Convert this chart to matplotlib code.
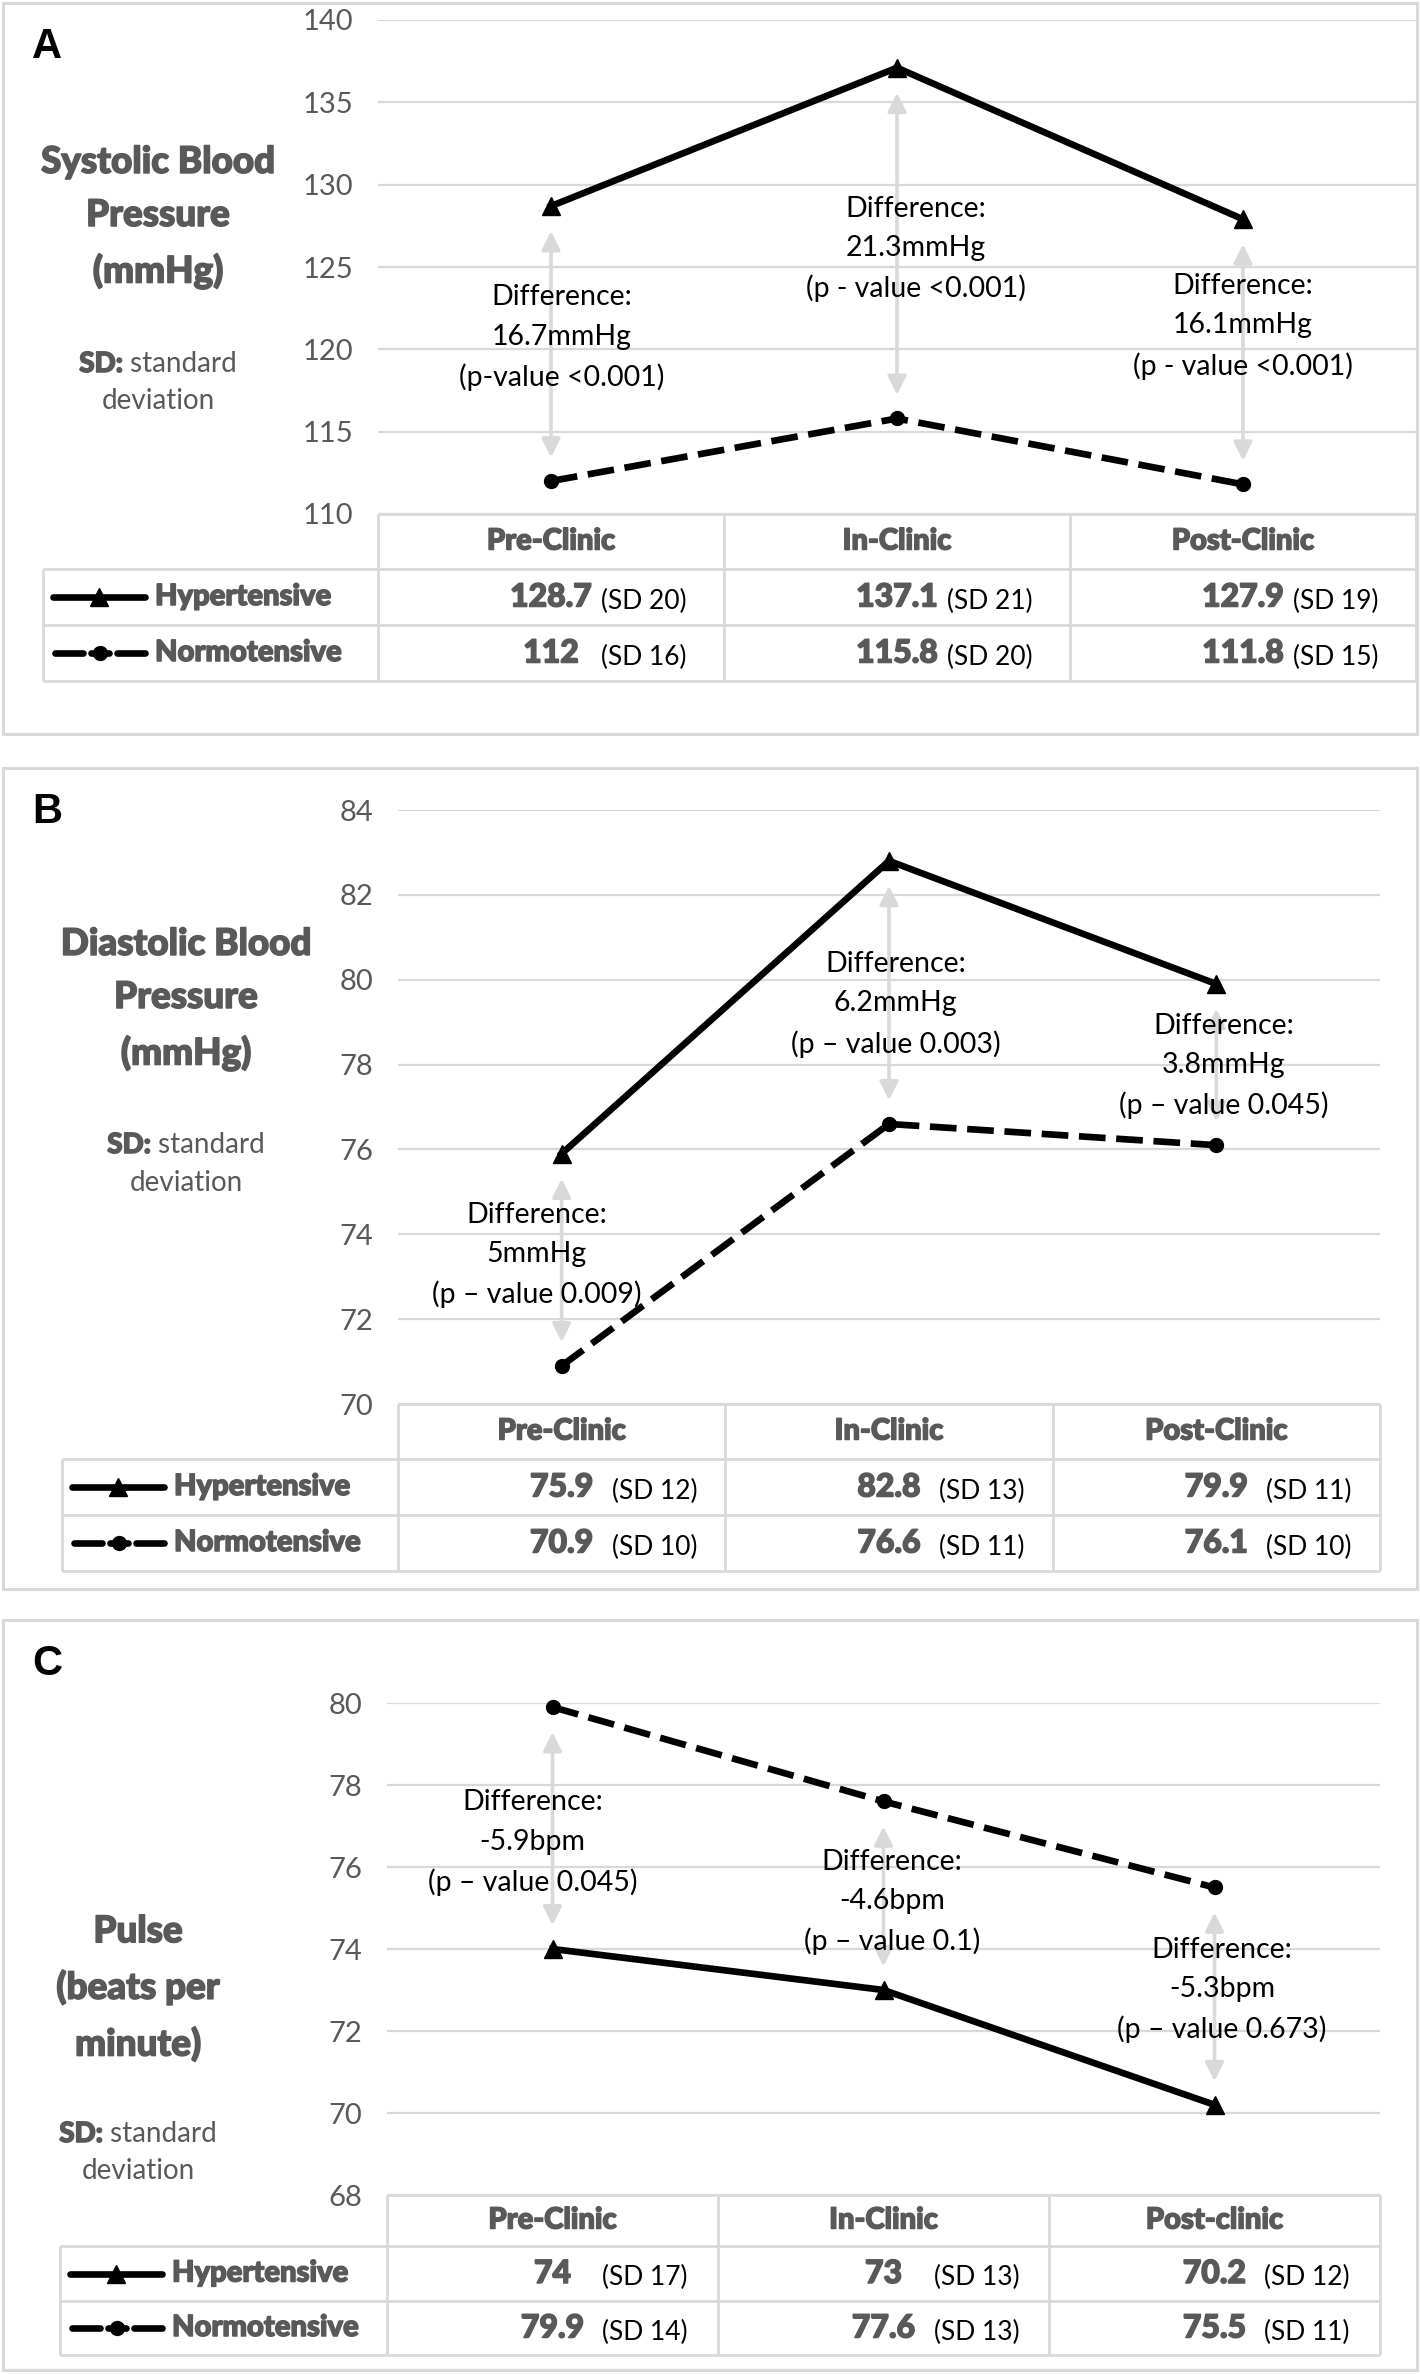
import matplotlib

matplotlib.use("Agg")

import matplotlib.pyplot as plt
import matplotlib.patheffects as pe
from matplotlib.patches import Rectangle

W, H = 1420, 2374

GRAY_TXT = "#595959"
GRID = "#d9d9d9"
HEAVY = "black"
THICK = [pe.withStroke(linewidth=1.1, foreground=GRAY_TXT)]

# ---------------- data ----------------
time_points = ["Pre-Clinic", "In-Clinic", "Post-Clinic"]
time_points_pulse = ["Pre-Clinic", "In-Clinic", "Post-clinic"]
groups = ["Hypertensive", "Normotensive"]

sbp_hyper = [128.7, 137.1, 127.9]
sbp_hyper_sd = [20, 21, 19]
sbp_normo = [112, 115.8, 111.8]
sbp_normo_sd = [16, 20, 15]
sbp_diff = ["16.7mmHg", "21.3mmHg", "16.1mmHg"]
sbp_p = ["(p-value <0.001)", "(p - value <0.001)", "(p - value <0.001)"]
sbp_ticks = [110, 115, 120, 125, 130, 135, 140]

dbp_hyper = [75.9, 82.8, 79.9]
dbp_hyper_sd = [12, 13, 11]
dbp_normo = [70.9, 76.6, 76.1]
dbp_normo_sd = [10, 11, 10]
dbp_diff = ["5mmHg", "6.2mmHg", "3.8mmHg"]
dbp_p = ["(p \u2013 value 0.009)", "(p \u2013 value 0.003)", "(p \u2013 value 0.045)"]
dbp_ticks = [70, 72, 74, 76, 78, 80, 82, 84]

pulse_hyper = [74, 73, 70.2]
pulse_hyper_sd = [17, 13, 12]
pulse_normo = [79.9, 77.6, 75.5]
pulse_normo_sd = [14, 13, 11]
pulse_diff = ["-5.9bpm", "-4.6bpm", "-5.3bpm"]
pulse_p = ["(p \u2013 value 0.045)", "(p \u2013 value 0.1)", "(p \u2013 value 0.673)"]
pulse_ticks = [68, 70, 72, 74, 76, 78, 80]


def setup_style():
    plt.rcParams.update(
        {
            "font.family": ["Lato", "DejaVu Sans"],
            "axes.linewidth": 1.0,
        }
    )


def fmt(v):
    return f"{v:g}"


def add_sd_note(ov, renderer, cx, y1, y2):
    # "SD: standard" with bold "SD:", centred on cx, then "deviation"
    t1 = ov.text(0, y1, "SD:", fontsize=20, fontweight=HEAVY, color=GRAY_TXT,
                 ha="left", va="center", path_effects=THICK)
    t2 = ov.text(0, y1, " standard", fontsize=20, color=GRAY_TXT,
                 ha="left", va="center")
    w1 = t1.get_window_extent(renderer).width
    w2 = t2.get_window_extent(renderer).width
    left = cx - (w1 + w2) / 2
    t1.set_x(left)
    t2.set_x(left + w1)
    ov.text(cx, y2, "deviation", fontsize=20, color=GRAY_TXT, ha="center", va="center")


def draw_panel(fig, ov, renderer, letter, frame_y, plot_box, row_edges, legend_x0,
               ticks, hyper, hyper_sd, normo, normo_sd, cats, diff, pvals,
               label, label_xy, sd_xy, note_pos):
    x0, yt, x1, yb = plot_box

    # panel frame and letter
    ov.add_patch(Rectangle((3, frame_y[0]), W - 6, frame_y[1] - frame_y[0],
                           fill=False, ec=GRID, lw=2.2))
    ov.text(32, frame_y[0] + 44, letter, family="Liberation Sans", fontweight="bold",
            fontsize=30, ha="left", va="center", color="black")

    # side label
    ov.text(label_xy[0], label_xy[1], label, fontsize=26.5, fontweight=HEAVY,
            color=GRAY_TXT, ha="center", va="center", multialignment="center",
            linespacing=1.68, path_effects=THICK)
    add_sd_note(ov, renderer, sd_xy[0], sd_xy[1], sd_xy[2])

    # plot area
    ax = fig.add_axes([x0 / W, 1 - yb / H, (x1 - x0) / W, (yb - yt) / H])
    ax.set_facecolor("none")
    ax.set_zorder(2)
    ax.set_xlim(-0.5, 2.5)
    ax.set_ylim(ticks[0], ticks[-1])
    ax.set_yticks(ticks)
    ax.set_xticks([])
    for s in ax.spines.values():
        s.set_visible(False)
    ax.grid(axis="y", color=GRID, lw=1.6)
    ax.set_axisbelow(True)
    ax.tick_params(axis="y", length=0, pad=18, labelsize=21, labelcolor=GRAY_TXT)

    xs = list(range(len(cats)))
    ax.plot(xs, hyper, color="black", lw=4.8, marker="^", ms=13, clip_on=False, zorder=4)
    ax.plot(xs, normo, color="black", lw=4.8, ls=(0, (4, 1.6)), marker="o", ms=10,
            clip_on=False, zorder=4)

    for i in xs:
        hi = max(hyper[i], normo[i])
        lo = min(hyper[i], normo[i])
        ax.annotate("", xy=(i, lo), xytext=(i, hi),
                    arrowprops=dict(arrowstyle="<|-|>", color=GRID, lw=2.6,
                                    mutation_scale=28, shrinkA=18, shrinkB=17),
                    zorder=1)
        dx, ty = note_pos[i]
        ax.text(i + dx, ty, f"Difference:\n{diff[i]}\n{pvals[i]}", fontsize=20.5,
                color="black", ha="center", va="center", multialignment="center",
                linespacing=1.62, zorder=3)

    # table below the plot
    cw = (x1 - x0) / len(cats)
    r0, r1, r2, r3 = row_edges
    lc = dict(color=GRID, lw=2.0, solid_capstyle="butt")
    ov.plot([x0, x1], [r0, r0], **lc)
    for y in (r1, r2, r3):
        ov.plot([legend_x0, x1], [y, y], **lc)
    for k in range(len(cats) + 1):
        ov.plot([x0 + k * cw, x0 + k * cw], [r0, r3], **lc)
    ov.plot([legend_x0, legend_x0], [r1, r3], **lc)

    for k, c in enumerate(cats):
        ov.text(x0 + (k + 0.5) * cw, (r0 + r1) / 2, c, fontsize=21, fontweight=HEAVY,
                color=GRAY_TXT, ha="center", va="center", path_effects=THICK)

    rows = [(groups[0], hyper, hyper_sd, "^", 13),
            (groups[1], normo, normo_sd, "o", 10)]
    for n, ((name, vals, sds, mk, ms), (ya, yb2)) in enumerate(
            zip(rows, [(r1, r2), (r2, r3)])):
        ym = (ya + yb2) / 2
        lx = legend_x0 + 10
        if n == 0:
            ov.plot([lx, lx + 46, lx + 92], [ym, ym, ym], color="black", lw=4.8,
                    marker=mk, ms=ms, markevery=[1], solid_capstyle="round")
        else:
            seg = dict(color="black", lw=4.8, solid_capstyle="round")
            ov.plot([lx + 2, lx + 30], [ym, ym], **seg)
            ov.plot([lx + 38, lx + 56], [ym, ym], **seg)
            ov.plot([lx + 64, lx + 92], [ym, ym], **seg)
            ov.plot([lx + 47], [ym], color="black", marker=mk, ms=ms)
        ov.text(legend_x0 + 112, ym, name, fontsize=21, fontweight=HEAVY,
                color=GRAY_TXT, ha="left", va="center", path_effects=THICK)
        for k in range(len(cats)):
            cx = x0 + (k + 0.5) * cw
            ov.text(cx, ym, fmt(vals[k]), fontsize=23, fontweight=HEAVY,
                    color=GRAY_TXT, ha="center", va="center", path_effects=THICK)
            ov.text(cx + 50, ym + 4, f"(SD {sds[k]})", fontsize=19, color="black",
                    ha="left", va="center")
    return ax


def main():
    fig = plt.figure(figsize=(W / 100, H / 100), dpi=100)
    ov = fig.add_axes([0, 0, 1, 1])
    ov.set_xlim(0, W)
    ov.set_ylim(H, 0)
    ov.axis("off")
    ov.set_zorder(0)
    renderer = fig.canvas.get_renderer()

    draw_panel(fig, ov, renderer, "A", (3, 734), (378, 20, 1416, 514),
               (514, 569, 625, 681), 43, sbp_ticks,
               sbp_hyper, sbp_hyper_sd, sbp_normo, sbp_normo_sd, time_points,
               sbp_diff, sbp_p,
               "Systolic Blood\nPressure\n(mmHg)", (158, 217), (158, 364, 401),
               [(0.03, 120.7), (0.055, 126.1), (0.0, 121.4)])

    draw_panel(fig, ov, renderer, "B", (768, 1589), (398, 810, 1380, 1404),
               (1404, 1459, 1515, 1571), 62, dbp_ticks,
               dbp_hyper, dbp_hyper_sd, dbp_normo, dbp_normo_sd, time_points,
               dbp_diff, dbp_p,
               "Diastolic Blood\nPressure\n(mmHg)", (186, 999), (186, 1145, 1183),
               [(-0.077, 73.51), (0.02, 79.41), (0.023, 77.97)])

    draw_panel(fig, ov, renderer, "C", (1620, 2370), (387, 1703, 1380, 2195),
               (2195, 2246, 2301, 2355), 60, pulse_ticks,
               pulse_hyper, pulse_hyper_sd, pulse_normo, pulse_normo_sd, time_points_pulse,
               pulse_diff, pulse_p,
               "Pulse\n(beats per\nminute)", (138, 1988), (138, 2134, 2171),
               [(-0.06, 76.59), (0.026, 75.15), (0.023, 73.0)])

    fig.savefig("out.png", dpi=100, facecolor="white")


if __name__ == "__main__":
    setup_style()
    main()
